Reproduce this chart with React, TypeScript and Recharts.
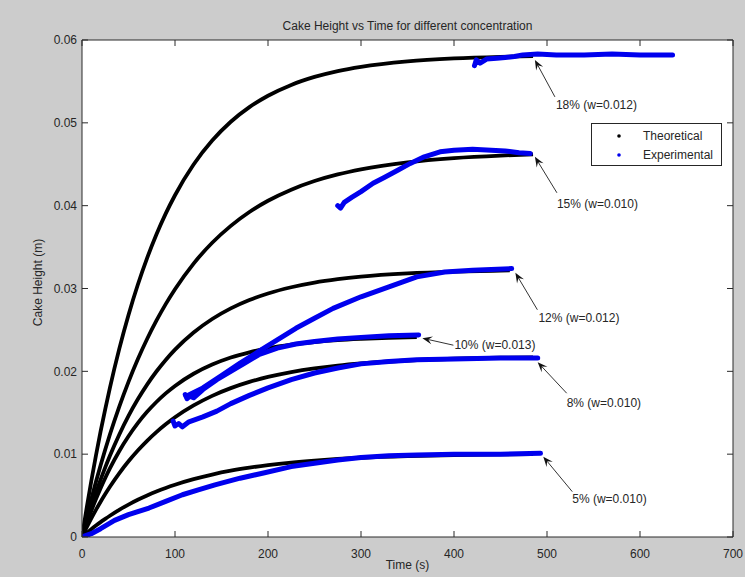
import React from 'react';
import { LineChart, Line, XAxis, YAxis, ReferenceDot, Legend, CartesianGrid } from 'recharts';

// ---------- axis ticks ----------
const xTicks = [0, 100, 200, 300, 400, 500, 600, 700];
const yTicks = [0, 0.01, 0.02, 0.03, 0.04, 0.05, 0.06];

// ---------- theoretical curves (time s, height m) ----------
const theoT = [0, 5, 10, 15, 20, 25, 30, 40, 50, 60, 70, 80, 90, 100, 120, 140, 160, 180, 200, 225, 250, 275, 300, 350, 400, 450, 485];
const theo18 = [0, 0.00349, 0.00676, 0.00984, 0.01274, 0.01545, 0.01801, 0.02268, 0.02681, 0.03045, 0.03367, 0.03652, 0.03904, 0.04126, 0.04497, 0.04786, 0.05013, 0.05189, 0.05327, 0.05458, 0.05554, 0.05625, 0.05677, 0.05743, 0.05778, 0.05797, 0.05805];
const theo15 = [0, 0.00233, 0.00456, 0.00666, 0.00866, 0.01056, 0.01237, 0.01571, 0.01873, 0.02145, 0.0239, 0.02611, 0.02811, 0.02991, 0.03301, 0.03552, 0.03756, 0.03923, 0.04059, 0.04193, 0.04297, 0.04377, 0.04439, 0.04524, 0.04575, 0.04605, 0.04619];
const theo12T = [0, 5, 10, 15, 20, 25, 30, 40, 50, 60, 70, 80, 90, 100, 120, 140, 160, 180, 200, 225, 250, 275, 300, 350, 400, 450, 460];
const theo12 = [0, 0.00189, 0.00367, 0.00534, 0.00692, 0.0084, 0.0098, 0.01235, 0.01462, 0.01662, 0.0184, 0.01998, 0.02138, 0.02262, 0.02469, 0.02632, 0.0276, 0.02861, 0.0294, 0.03015, 0.03071, 0.03112, 0.03143, 0.03182, 0.03204, 0.03216, 0.03218];
const theo10T = [0, 5, 10, 15, 20, 25, 30, 40, 50, 60, 70, 80, 90, 100, 120, 140, 160, 180, 200, 225, 250, 275, 300, 330, 360];
const theo10 = [0, 0.00163, 0.00315, 0.00457, 0.00589, 0.00713, 0.00828, 0.01036, 0.01216, 0.01374, 0.01511, 0.0163, 0.01734, 0.01824, 0.01971, 0.02082, 0.02167, 0.0223, 0.02279, 0.02323, 0.02354, 0.02377, 0.02392, 0.02405, 0.02414];
const theo8 = [0, 0.00115, 0.00225, 0.00328, 0.00426, 0.00519, 0.00607, 0.00769, 0.00914, 0.01044, 0.01161, 0.01266, 0.0136, 0.01445, 0.01588, 0.01704, 0.01797, 0.01872, 0.01932, 0.01991, 0.02036, 0.0207, 0.02096, 0.02131, 0.02152, 0.02164, 0.02169];
const theo5 = [0, 0.00048, 0.00094, 0.00138, 0.0018, 0.00219, 0.00257, 0.00328, 0.00391, 0.00449, 0.00501, 0.00549, 0.00592, 0.00631, 0.00698, 0.00754, 0.008, 0.00837, 0.00868, 0.00899, 0.00923, 0.00942, 0.00957, 0.00977, 0.0099, 0.00998, 0.01002];

// ---------- experimental curves ----------
const exp5T = [0, 10, 20, 35, 50, 72, 90, 108, 125, 143, 170, 194, 225, 250, 275, 300, 330, 360, 400, 450, 493];
const exp5V = [0, 0.0004, 0.001, 0.002, 0.0027, 0.0035, 0.0043, 0.0051, 0.0057, 0.0063, 0.0071, 0.0077, 0.0085, 0.0089, 0.0093, 0.0096, 0.0098, 0.0099, 0.01, 0.01, 0.0101];
const exp8T = [98, 100, 104, 108, 115, 130, 145, 160, 180, 200, 225, 250, 275, 300, 330, 360, 400, 450, 490];
const exp8V = [0.014, 0.0134, 0.0137, 0.0133, 0.0139, 0.0145, 0.0152, 0.0161, 0.0171, 0.018, 0.019, 0.0198, 0.0204, 0.0209, 0.0212, 0.0214, 0.0215, 0.0216, 0.0216];
const exp10T = [111, 113, 116, 120, 130, 145, 160, 175, 190, 210, 230, 250, 275, 300, 330, 362];
const exp10V = [0.0172, 0.0167, 0.017, 0.0168, 0.0178, 0.019, 0.02, 0.021, 0.022, 0.0228, 0.0233, 0.0236, 0.0239, 0.0241, 0.0243, 0.0244];
const exp12T = [112, 130, 150, 170, 190, 210, 230, 250, 270, 300, 330, 360, 390, 420, 440, 462];
const exp12V = [0.017, 0.018, 0.0195, 0.021, 0.0224, 0.0238, 0.0252, 0.0264, 0.0276, 0.029, 0.0302, 0.0314, 0.032, 0.0322, 0.0323, 0.0324];
const exp15T = [275, 278, 282, 290, 300, 313, 325, 340, 353, 368, 385, 400, 420, 440, 455, 470, 482];
const exp15V = [0.04, 0.0397, 0.0404, 0.041, 0.0417, 0.0427, 0.0434, 0.0443, 0.0451, 0.0459, 0.0465, 0.0467, 0.0468, 0.0467, 0.0466, 0.0464, 0.0463];
const exp18T = [422, 424, 428, 435, 446, 455, 465, 474, 490, 510, 540, 570, 600, 635];
const exp18V = [0.0569, 0.0576, 0.0572, 0.0577, 0.0578, 0.0579, 0.058, 0.0582, 0.0583, 0.0582, 0.0582, 0.0583, 0.0582, 0.0582];

// ---------- annotations (arrow tip in data coords) ----------
const annoLabels = ['18% (w=0.012)', '15% (w=0.010)', '12% (w=0.012)', '10% (w=0.013)', '8% (w=0.010)', '5% (w=0.010)'];
const annoT = [487, 487, 466, 366, 490, 496];
const annoV = [0.0576, 0.0459, 0.0319, 0.024, 0.0211, 0.0097];

// layout of arrow tails / text relative to tip (pixels)
const annoLayout: Array<{ tail: [number, number]; text: [number, number] }> = [
  { tail: [20, 37], text: [1, 8] },
  { tail: [22, 36], text: [0, 11] },
  { tail: [22, 37], text: [1, 8] },
  { tail: [31, 7], text: [1, 0] },
  { tail: [29, 31], text: [0, 10] },
  { tail: [29, 35], text: [0, 7] },
];

const pairs = (ts: number[], vs: number[]) => ts.map((t, i) => ({ t, v: vs[i] }));

const theoSeries = [
  pairs(theoT, theo18),
  pairs(theoT, theo15),
  pairs(theo12T, theo12),
  pairs(theo10T, theo10),
  pairs(theoT, theo8),
  pairs(theoT, theo5),
];
const expSeries = [
  pairs(exp18T, exp18V),
  pairs(exp15T, exp15V),
  pairs(exp12T, exp12V),
  pairs(exp10T, exp10V),
  pairs(exp8T, exp8V),
  pairs(exp5T, exp5V),
];

const FONT = '"Liberation Sans", Arial, Helvetica, sans-serif';
const TXT = '#262626';
const AXIS = '#2a2a2a';
const BLUE = '#0000ee';
const TICK_LEN = 6;
const X_MARGIN = 12;
const Y_MARGIN = 5;

const fmtY = (v: number) => (v === 0 ? '0' : v.toFixed(2));

// bottom axis: inward tick + label below
const BottomTick = (p: any) => {
  const x = p.x as number;
  const y = p.y as number;
  const axisY = y - X_MARGIN;
  return (
    <g>
      <line x1={x} y1={axisY} x2={x} y2={axisY - TICK_LEN} stroke={AXIS} strokeWidth={1} />
      <text x={x} y={y} dy="0.71em" textAnchor="middle" fontSize={12} fill={TXT}>
        {p.payload.value}
      </text>
    </g>
  );
};

// left axis: inward tick + label left
const LeftTick = (p: any) => {
  const x = p.x as number;
  const y = p.y as number;
  const axisX = x + Y_MARGIN;
  return (
    <g>
      <line x1={axisX} y1={y} x2={axisX + TICK_LEN} y2={y} stroke={AXIS} strokeWidth={1} />
      <text x={x} y={y} dy="0.355em" textAnchor="end" fontSize={12} fill={TXT}>
        {fmtY(p.payload.value)}
      </text>
    </g>
  );
};

const TopTick = (p: any) => (
  <line x1={p.x} y1={p.y} x2={p.x} y2={p.y + TICK_LEN} stroke={AXIS} strokeWidth={1} />
);
const RightTick = (p: any) => (
  <line x1={p.x} y1={p.y} x2={p.x - TICK_LEN} y2={p.y} stroke={AXIS} strokeWidth={1} />
);

function arrowShape(label: string, tail: [number, number], txt: [number, number]) {
  return (p: any) => {
    const cx = p.cx as number;
    const cy = p.cy as number;
    const x2 = cx + tail[0];
    const y2 = cy + tail[1];
    const len = Math.hypot(tail[0], tail[1]);
    const ux = tail[0] / len;
    const uy = tail[1] / len;
    const nx = -uy;
    const ny = ux;
    const L = 10;
    const W = 4;
    const pts = [
      [cx, cy],
      [cx + ux * L + nx * W, cy + uy * L + ny * W],
      [cx + ux * L * 0.6, cy + uy * L * 0.6],
      [cx + ux * L - nx * W, cy + uy * L - ny * W],
    ];
    return (
      <g>
        <line x1={cx + ux * 6} y1={cy + uy * 6} x2={x2} y2={y2} stroke="#333" strokeWidth={1} />
        <polygon points={pts.map((q) => q.join(',')).join(' ')} fill="#111" />
        <text x={x2 + txt[0]} y={y2 + txt[1]} fontSize={12} fill={TXT} dominantBaseline="central" fontFamily={FONT}>
          {label}
        </text>
      </g>
    );
  };
}

const LegendBox = () => (
  <div
    style={{
      width: 131,
      height: 43,
      background: '#fff',
      border: '1px solid #262626',
      boxSizing: 'border-box',
      position: 'relative',
      fontFamily: FONT,
      fontSize: 12,
      color: TXT,
    }}
  >
    <svg width={131} height={43} style={{ position: 'absolute', left: -1, top: -1 }}>
      <circle cx={28} cy={13} r={1.8} fill="#000" />
      <circle cx={28} cy={32} r={1.8} fill={BLUE} />
    </svg>
    <div style={{ position: 'absolute', left: 51, top: 5, lineHeight: '14px' }}>Theoretical</div>
    <div style={{ position: 'absolute', left: 51, top: 24, lineHeight: '14px' }}>Experimental</div>
  </div>
);

export default function App() {
  return (
    <div
      style={{
        position: 'absolute',
        left: 0,
        top: 0,
        width: 745,
        height: 577,
        background: '#cccccc',
        fontFamily: FONT,
      }}
    >
      <LineChart width={745} height={577} margin={{ top: 39, right: 11, bottom: 0, left: 0 }}>
        <CartesianGrid fill="#ffffff" horizontal={false} vertical={false} />
        <XAxis
          type="number"
          dataKey="t"
          domain={[0, 700]}
          ticks={xTicks}
          interval={0}
          allowDataOverflow
          height={40}
          tickSize={0}
          tickLine={false}
          tickMargin={X_MARGIN}
          stroke={AXIS}
          tick={BottomTick}
          label={{ value: 'Time (s)', position: 'insideBottom', offset: 8, fill: TXT, fontSize: 12 }}
        />
        <XAxis
          xAxisId="top"
          orientation="top"
          type="number"
          dataKey="t"
          domain={[0, 700]}
          ticks={xTicks}
          interval={0}
          allowDataOverflow
          height={1}
          tickSize={0}
          tickMargin={0}
          tickLine={false}
          stroke={AXIS}
          tick={TopTick}
        />
        <YAxis
          type="number"
          domain={[0, 0.06]}
          ticks={yTicks}
          interval={0}
          allowDataOverflow
          width={82}
          tickSize={0}
          tickLine={false}
          tickMargin={Y_MARGIN}
          stroke={AXIS}
          tick={LeftTick}
          label={{ value: 'Cake Height (m)', angle: -90, position: 'center', dx: -3, dy: -6, fill: TXT, fontSize: 12 }}
        />
        <YAxis
          yAxisId="right"
          orientation="right"
          type="number"
          domain={[0, 0.06]}
          ticks={yTicks}
          interval={0}
          allowDataOverflow
          width={1}
          tickSize={0}
          tickMargin={0}
          tickLine={false}
          stroke={AXIS}
          tick={RightTick}
        />
        {theoSeries.map((d, i) => (
          <Line
            key={'theo' + i}
            data={d}
            dataKey="v"
            name="Theoretical"
            type="monotone"
            stroke="#000"
            strokeWidth={3.8}
            dot={false}
            activeDot={false}
            isAnimationActive={false}
          />
        ))}
        {expSeries.map((d, i) => (
          <Line
            key={'exp' + i}
            data={d}
            dataKey="v"
            name="Experimental"
            type="linear"
            stroke={BLUE}
            strokeWidth={5}
            strokeLinejoin="round"
            strokeLinecap="round"
            dot={false}
            activeDot={false}
            isAnimationActive={false}
          />
        ))}
        {annoLabels.map((lab, i) => (
          <ReferenceDot
            key={'anno' + i}
            x={annoT[i]}
            y={annoV[i]}
            r={0}
            ifOverflow="visible"
            shape={arrowShape(lab, annoLayout[i].tail, annoLayout[i].text)}
          />
        ))}
        <Legend
          layout="horizontal"
          verticalAlign="middle"
          align="center"
          wrapperStyle={{ left: 591, top: 123, width: 131, height: 43 }}
          content={() => <LegendBox />}
        />
      </LineChart>
      <div
        style={{
          position: 'absolute',
          left: 82,
          top: 19,
          width: 651,
          textAlign: 'center',
          fontSize: 12,
          lineHeight: '14px',
          color: TXT,
        }}
      >
        Cake Height vs Time for different concentration
      </div>
    </div>
  );
}
